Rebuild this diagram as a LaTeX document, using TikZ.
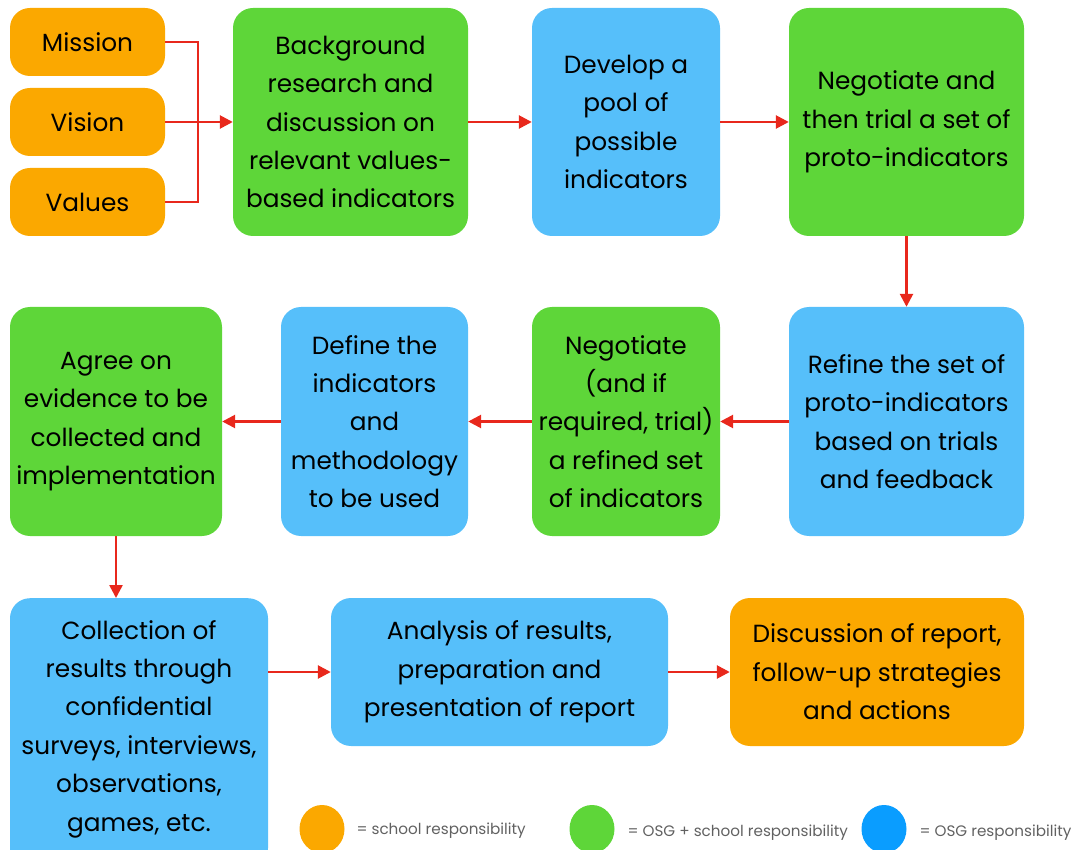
\documentclass[tikz,border=0pt]{standalone}
\usepackage{fontspec}
\setmainfont{Poppins}
\usepackage{tikz}
\usetikzlibrary{arrows.meta,shapes.geometric}

\definecolor{schoolorange}{HTML}{FBA800}
\definecolor{jointgreen}{HTML}{5ED639}
\definecolor{osgblue}{HTML}{56BFFA}
\definecolor{keyblue}{HTML}{0A9DFF}
\definecolor{flowred}{HTML}{E8281C}

\tikzset{
  box/.style={rounded corners=20pt, align=center, inner sep=2pt,
              font=\fontsize{24.8}{38.4}\selectfont},
  school/.style={box, fill=schoolorange},
  joint/.style={box, fill=jointgreen},
  osg/.style={box, fill=osgblue},
  flow/.style={draw=flowred, line width=2.6pt,
               -{Triangle[length=13pt,width=13pt]}},
  keydot/.style={ellipse, minimum width=45pt, minimum height=48pt},
  keytext/.style={anchor=west, text=black!62, font=\fontsize{15.2}{17}\selectfont}
}

\begin{document}
\begin{tikzpicture}[x=1pt,y=-1pt]
      \useasboundingbox (0,0) rectangle (1080,850);

      % top row
      \node[school, minimum width=155pt, minimum height=68pt] (M)  at (87.5, 42) {Mission};
      \node[school, minimum width=155pt, minimum height=68pt] (Vi) at (87.5,122) {Vision};
      \node[school, minimum width=155pt, minimum height=68pt] (Va) at (87.5,202) {Values};

      \node[joint, minimum width=235pt, minimum height=228pt] (B) at (350.5,122)
        {Background\\research and\\discussion on\\relevant values-\\based indicators};
      \node[osg, minimum width=188pt, minimum height=228pt] (D) at (626,122)
        {Develop a\\pool of\\possible\\indicators};
      \node[joint, minimum width=235pt, minimum height=228pt] (N1) at (906.5,122)
        {Negotiate and\\then trial a set of\\proto-indicators};

      % middle row, right to left
      \node[osg, minimum width=235pt, minimum height=229pt] (R) at (906.5,421.5)
        {Refine the set of\\proto-indicators\\based on trials\\and feedback};
      \node[joint, minimum width=188pt, minimum height=229pt] (N2) at (626,421.5)
        {Negotiate\\(and if\\required, trial)\\a refined set\\of indicators};
      \node[osg, minimum width=187pt, minimum height=229pt] (Df) at (374.5,421.5)
        {Define the\\indicators\\and\\methodology\\to be used};
      \node[joint, minimum width=212pt, minimum height=229pt] (A) at (116,421.5)
        {Agree on\\evidence to be\\collected and\\implementation};

      % bottom row
      \node[osg, minimum width=258pt, minimum height=270pt, anchor=north] (C) at (139,598) {};
      \node[box, anchor=north] at (139,618)
        {Collection of\\results through\\confidential\\surveys, interviews,\\observations,\\games, etc.};
      \node[osg, minimum width=337pt, minimum height=148pt] (An) at (499.5,672)
        {Analysis of results,\\preparation and\\presentation of report};
      \node[school, minimum width=294pt, minimum height=148pt] (Di) at (877,672)
        {Discussion of report,\\follow-up strategies\\and actions};

      % key
      \node[keydot, fill=schoolorange] (K1) at (322,829) {};
      \node[keytext] at (353,831) {= school responsibility};
      \node[keydot, fill=jointgreen] (K2) at (592,829) {};
      \node[keytext] at (624,833) {= OSG + school responsibility};
      \node[keydot, fill=keyblue] (K3) at (884,829) {};
      \node[keytext] at (916,833) {= OSG responsibility};

      % connectors
      \draw[draw=flowred, line width=2.6pt] (M.east) -| (198,202) -- (Va.east);
      \draw[flow] (Vi.east) -- (B.west);
      \draw[flow] (B) -- (D);
      \draw[flow] (D) -- (N1);
      \draw[flow] (N1) -- (R);
      \draw[flow] (R) -- (N2);
      \draw[flow] (N2) -- (Df);
      \draw[flow] (Df) -- (A);
      \draw[flow] (A.south) -- (A.south |- C.north);
      \draw[flow] (C.east |- An) -- (An.west);
      \draw[flow] (An) -- (Di);
    \end{tikzpicture}
\end{document}
